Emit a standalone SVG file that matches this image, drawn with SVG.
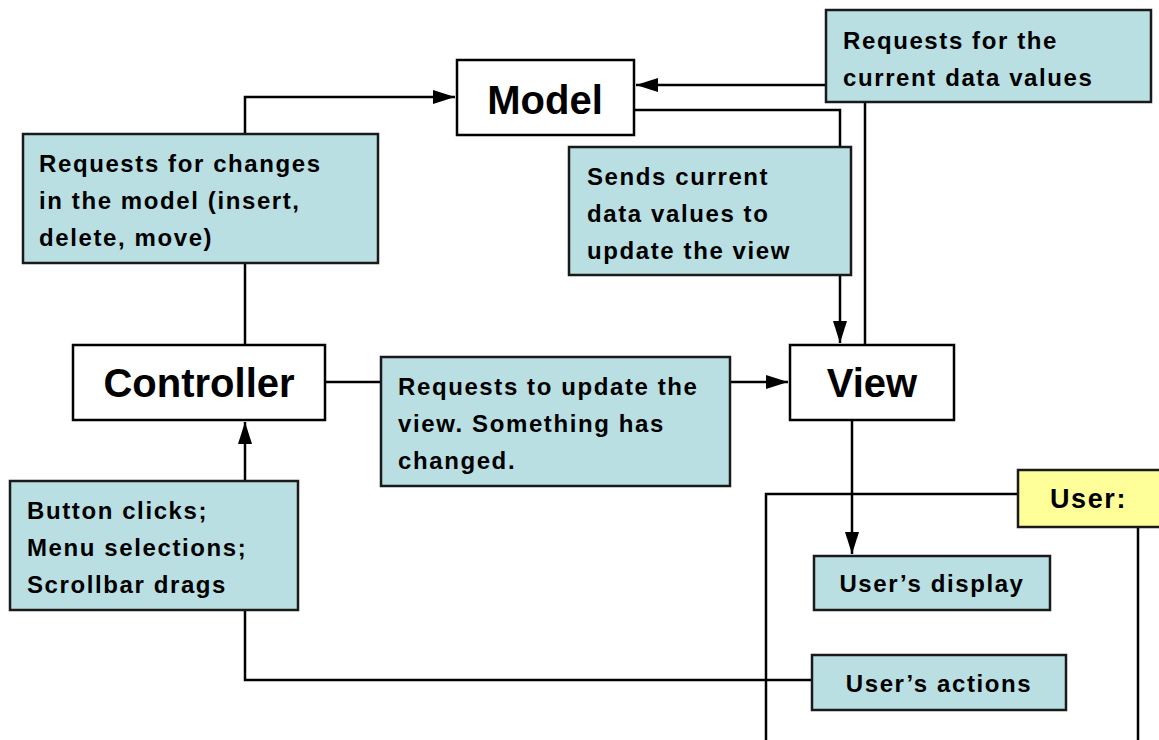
<svg xmlns="http://www.w3.org/2000/svg" width="1159" height="740" viewBox="0 0 1159 740">
<defs>
<style>
.box{fill:#ffffff;stroke:#000;stroke-width:2.5}
.note{fill:#b9dfe3;stroke:#1a1a1a;stroke-width:2.5}
.user{fill:#ffff99;stroke:#1a1a1a;stroke-width:2.5}
.title{font-family:"Comic Sans MS","Liberation Sans",sans-serif;font-weight:bold;font-size:40px;fill:#000;text-anchor:middle}
.t{font-family:"Comic Sans MS","Liberation Sans",sans-serif;font-weight:bold;font-size:24px;letter-spacing:1.6px;fill:#000}
.tc{text-anchor:middle}
.line{fill:none;stroke:#000;stroke-width:2.5}
</style>
<marker id="arr" viewBox="0 0 22 14" refX="22" refY="7" markerWidth="22" markerHeight="14" markerUnits="userSpaceOnUse" orient="auto">
<path d="M0,0 L22,7 L0,14 Z" fill="#000"/>
</marker>
</defs>
<rect width="1159" height="740" fill="#fff"/>

<g id="connectors">
<path class="line" d="M245,345 V97 H455" marker-end="url(#arr)"/>
<path class="line" d="M826,85 H636" marker-end="url(#arr)"/>
<path class="line" d="M634,110 H840 V147"/>
<path class="line" d="M840,275 V343" marker-end="url(#arr)"/>
<path class="line" d="M865,102 V345"/>
<path class="line" d="M325,382 H381"/>
<path class="line" d="M730,382 H788" marker-end="url(#arr)"/>
<path class="line" d="M852,408 V554" marker-end="url(#arr)"/>
<path class="line" d="M245,481 V422" marker-end="url(#arr)"/>
<path class="line" d="M245,610 V680 H812"/>
<path class="line" d="M1018,494 H766 V740"/>
<path class="line" d="M1138,527 V740"/>
</g>

<g id="model">
<rect class="box" x="457" y="60" width="177" height="75"/>
<text class="title" x="545" y="114">Model</text>
</g>

<g id="req-current">
<rect class="note" x="826" y="10" width="325" height="92"/>
<text class="t" x="843" y="49">Requests for the</text>
<text class="t" x="843" y="86">current data values</text>
</g>

<g id="req-changes">
<rect class="note" x="23" y="134" width="355" height="129"/>
<text class="t" x="39" y="172">Requests for changes</text>
<text class="t" x="39" y="209">in the model (insert,</text>
<text class="t" x="39" y="246">delete, move)</text>
</g>

<g id="sends">
<rect class="note" x="569" y="147" width="282" height="128"/>
<text class="t" x="587" y="185">Sends current</text>
<text class="t" x="587" y="222">data values to</text>
<text class="t" x="587" y="259">update the view</text>
</g>

<g id="controller">
<rect class="box" x="73" y="345" width="252" height="75"/>
<text class="title" x="199" y="397">Controller</text>
</g>

<g id="req-update">
<rect class="note" x="381" y="357" width="349" height="129"/>
<text class="t" x="398" y="395">Requests to update the</text>
<text class="t" x="398" y="432">view. Something has</text>
<text class="t" x="398" y="469">changed.</text>
</g>

<g id="view">
<rect class="box" x="790" y="345" width="164" height="75"/>
<text class="title" x="872" y="397">View</text>
</g>

<g id="button">
<rect class="note" x="10" y="481" width="288" height="129"/>
<text class="t" x="27" y="519">Button clicks;</text>
<text class="t" x="27" y="556">Menu selections;</text>
<text class="t" x="27" y="593">Scrollbar drags</text>
</g>

<g id="user">
<rect class="user" x="1018" y="470" width="150" height="57"/>
<text class="t" x="1050" y="508" style="font-size:27px">User:</text>
</g>

<g id="user-display">
<rect class="note" x="814" y="556" width="236" height="54"/>
<text class="t tc" x="932" y="592">User’s display</text>
</g>

<g id="user-actions">
<rect class="note" x="812" y="655" width="254" height="55"/>
<text class="t tc" x="939" y="692">User’s actions</text>
</g>
</svg>
